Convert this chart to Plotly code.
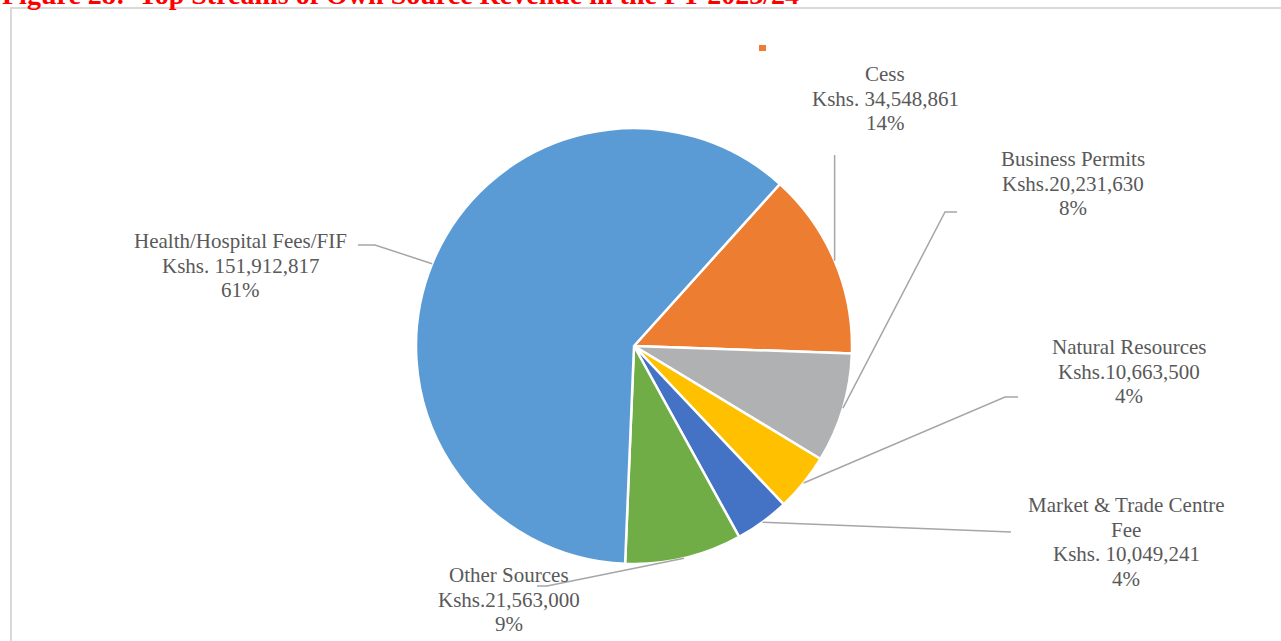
import math
import plotly.graph_objects as go

# Own source revenue streams, FY 2023/24
categories = ["Cess", "Business Permits", "Natural Resources",
              "Market & Trade Centre Fee", "Other Sources", "Health/Hospital Fees/FIF"]
label_names = [["Cess"], ["Business Permits"], ["Natural Resources"],
               ["Market & Trade Centre", "Fee"], ["Other Sources"], ["Health/Hospital Fees/FIF"]]
amounts = [34548861, 20231630, 10663500, 10049241, 21563000, 151912817]
amount_text = ["Kshs. 34,548,861", "Kshs.20,231,630", "Kshs.10,663,500",
               "Kshs. 10,049,241", "Kshs.21,563,000", "Kshs. 151,912,817"]
colors = ["#ED7D31", "#B0B1B3", "#FFC000", "#4472C4", "#70AD47", "#5B9BD5"]

W, H = 1281, 641
CX, CY, R = 634, 346, 218
ROTATION = 42

# first-line centre of each label (px) and leader-line waypoints after the slice edge
label_pos = [(885, 74), (1073, 159), (1129, 347), (1126, 505), (509, 575), (241, 241)]
leader_pts = [[("edge", 155)], [(945, 212), (957, 212)], [(1005, 397), (1018, 397)],
              [(1011, 532)], [(547, 586), (537, 586)], [(375, 245), (358, 245)]]
label_size = 21
line_step = 24.5


def px(x):
    return x / W


def py(y):
    return 1 - y / H


fig = go.Figure()
fig.add_trace(go.Pie(
    labels=categories, values=amounts, sort=False, direction="clockwise",
    rotation=ROTATION, marker=dict(colors=colors, line=dict(color="white", width=2.5)),
    textinfo="none", hoverinfo="label+value+percent", showlegend=False,
    domain=dict(x=[px(CX - R), px(CX + R)], y=[py(CY + R), py(CY - R)]),
))

total = sum(amounts)
shapes = []
annotations = []
cum = 0
for i, v in enumerate(amounts):
    mid = ROTATION + 360 * (cum + v / 2) / total
    cum += v
    a = math.radians(mid)
    ex, ey = CX + R * math.sin(a), CY - R * math.cos(a)
    pts = [(ex, ey)]
    for p in leader_pts[i]:
        pts.append((ex if p[0] == "edge" else p[0], p[1]))
    path = "M " + " L ".join(f"{px(x):.5f},{py(y):.5f}" for x, y in pts)
    shapes.append(dict(type="path", xref="paper", yref="paper", path=path,
                       line=dict(color="#A6A6A6", width=1.5), layer="above"))
    pct = round(100 * v / total)
    lines = label_names[i] + [amount_text[i], f"{pct}%"]
    lx, ly = label_pos[i]
    for k, t in enumerate(lines):
        annotations.append(dict(
            text=t, x=px(lx), y=py(ly + k * line_step), xref="paper", yref="paper",
            showarrow=False, xanchor="center", yanchor="middle", align="center",
            font=dict(family="Liberation Serif", size=label_size, color="#595959"),
        ))

# chart frame
shapes.append(dict(type="rect", xref="paper", yref="paper", x0=px(11), x1=1.02, y0=-0.02, y1=py(8),
                   line=dict(color="#D9D9D9", width=2), fillcolor="rgba(0,0,0,0)", layer="below"))
# small legend key
shapes.append(dict(type="rect", xref="paper", yref="paper", x0=px(759), x1=px(766), y0=py(51), y1=py(45),
                   line=dict(width=0), fillcolor="#ED7D31"))

annotations.append(dict(
    text="<b>Figure 28:  Top Streams of Own Source Revenue in the FY 2023/24</b>",
    x=0, y=py(-5.5), xref="paper", yref="paper", showarrow=False, xanchor="left", yanchor="middle",
    font=dict(family="Liberation Serif", size=28, color="#FF0000"),
))

fig.update_layout(
    width=W, height=H, margin=dict(l=0, r=0, t=0, b=0),
    paper_bgcolor="white", plot_bgcolor="white",
    shapes=shapes, annotations=annotations,
)
fig.write_html("out.html")
